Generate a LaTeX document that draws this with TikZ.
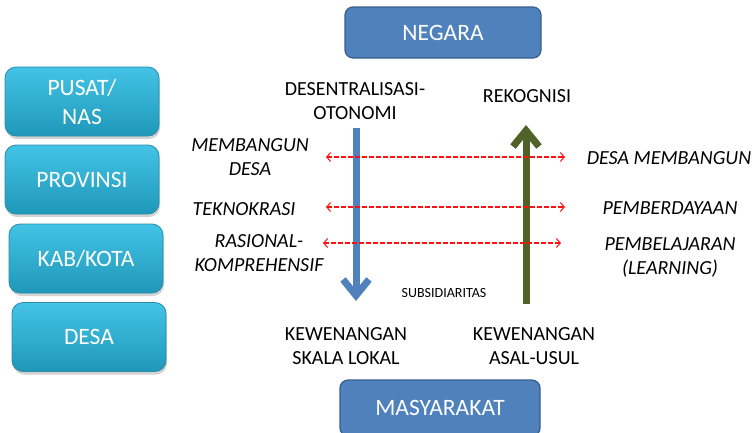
\documentclass[tikz,border=0pt]{standalone}
\usepackage{fontspec}
\setmainfont{Carlito}
\usetikzlibrary{arrows.meta}
\usetikzlibrary{shadows,calc}

\definecolor{aquatop}{HTML}{43C3E6}
\definecolor{aquabot}{HTML}{1F98B9}
\definecolor{aqualine}{HTML}{2B8CA8}
\definecolor{officeblue}{HTML}{4F81BD}
\definecolor{officeline}{HTML}{385D8A}
\definecolor{olivegreen}{HTML}{4F6228}
\definecolor{dashred}{HTML}{FF1010}

\begin{document}
\begin{tikzpicture}[x=1pt,y=-1pt,
		levelbox/.style={rounded corners=11pt, top color=aquatop, bottom color=aquabot, draw=aqualine, line width=0.8pt,
			drop shadow={shadow xshift=1pt, shadow yshift=-3pt, opacity=0.35},
			minimum width=154pt, minimum height=69pt, align=center, text=white, font=\fontsize{23.5}{29}\selectfont},
		endbox/.style={rounded corners=8pt, fill=officeblue, draw=officeline, line width=1.2pt,
			align=center, text=white, font=\fontsize{23.5}{29}\selectfont},
		textlabel/.style={align=center, inner sep=2pt, font=\fontsize{20}{24}\selectfont},
		itlabel/.style={textlabel, font=\fontsize{20}{24}\selectfont\itshape},
		dualarrow/.style={draw=dashred, dash pattern=on 4.5pt off 2.5pt, line width=1.4pt,
			{Straight Barb[length=4pt,width=9pt,line width=1pt]}-{Straight Barb[length=4pt,width=9pt,line width=1pt]}},
		flowarrow/.style={line width=7pt, -{Straight Barb[length=16pt,width=26pt]}}]
		\clip (0,0) rectangle (755,432);
		%\draw[help lines, step=50] (0,0) grid (755,432);

		% levels
		\node[levelbox] (pusat) at (82,101.5) {PUSAT/\\NAS};
		\node[levelbox] (provinsi) at (82,179.5) {PROVINSI};
		\node[levelbox] (kabkota) at (86,258.5) {KAB/KOTA};
		\node[levelbox] (desa) at (89,337) {DESA};

		\node[endbox, minimum width=196pt, minimum height=51pt] (negara) at (443,32.5) {NEGARA};
		\node[endbox, minimum width=200pt, minimum height=56pt] (masyarakat) at (440,408) {MASYARAKAT};

		\node[textlabel] (otonomi) at (355,101) {DESENTRALISASI-\\OTONOMI};
		\node[textlabel] (rekognisi) at (527,96) {REKOGNISI};
		\node[textlabel] (skalalokal) at (346,346) {KEWENANGAN\\SKALA LOKAL};
		\node[textlabel] (asalusul) at (534,346) {KEWENANGAN\\ASAL-USUL};
		\node[font=\fontsize{14}{16}\selectfont] (subsidiaritas) at (444,293) {SUBSIDIARITAS};

		\node[itlabel] (membangun) at (250,157) {MEMBANGUN\\DESA};
		\node[itlabel] (teknokrasi) at (244,209) {TEKNOKRASI};
		\node[itlabel] (rasional) at (259,253) {RASIONAL-\\KOMPREHENSIF};
		\node[itlabel] (desamembangun) at (669,158) {DESA MEMBANGUN};
		\node[itlabel] (pemberdayaan) at (670,208) {PEMBERDAYAAN};
		\node[itlabel] (pembelajaran) at (670,257) {PEMBELAJARAN\\(LEARNING)};

		% arrows
		\coordinate (otoTop) at (356,128);
		\coordinate (otoBot) at (356,301);
		\coordinate (rekBot) at (526,304);
		\coordinate (rekTop) at (526,125);
		\draw[flowarrow, officeblue] (otoTop) -- (otoBot);
		\draw[flowarrow, olivegreen] (rekBot) -- (rekTop);

		\coordinate (m1) at (326,157);
		\coordinate (m2) at (565,157);
		\coordinate (t1) at (326,207);
		\coordinate (t2) at (565,207);
		\coordinate (r1) at (323,243);
		\coordinate (r2) at (561,243);
		\draw[dualarrow] (m1) -- (m2);
		\draw[dualarrow] (t1) -- (t2);
		\draw[dualarrow] (r1) -- (r2);
	\end{tikzpicture}
\end{document}
